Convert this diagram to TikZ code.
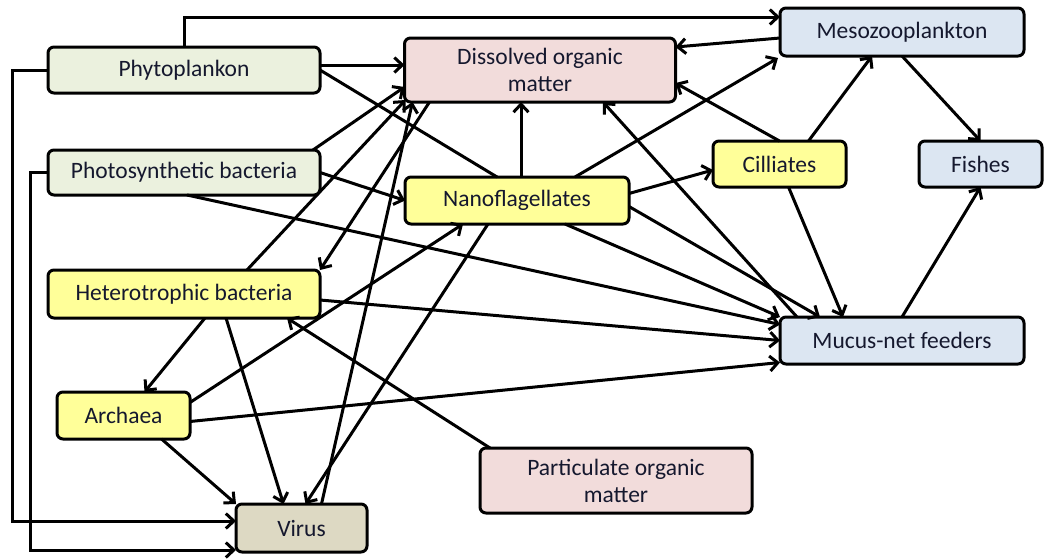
\documentclass[tikz,border=0pt]{standalone}
\usepackage{fontspec}
\setmainfont{Carlito}
\usetikzlibrary{arrows.meta}
\definecolor{plantfill}{HTML}{EBF1DE}
\definecolor{orgfill}{HTML}{F2DCDB}
\definecolor{zoofill}{HTML}{DCE6F2}
\definecolor{microfill}{HTML}{FFFF99}
\definecolor{virfill}{HTML}{DDD9C3}
\definecolor{labeltext}{HTML}{15182E}
\tikzset{
  box/.style={
    draw,
    rounded corners=6pt,
    inner sep=0pt,
    outer sep=0pt,
    align=center,
    text=labeltext,
    font=\fontsize{23.5}{27}\selectfont
  },
  flow/.style={-{Straight Barb[length=8pt,width=15pt]}}
}

\begin{document}
\begin{tikzpicture}[x=1pt,y=-1pt,line width=3pt]
    \useasboundingbox (0,0) rectangle (1045,560);
    \node[box,fill=plantfill,minimum width=272pt,minimum height=46pt] (phyto) at (184,70) {Phytoplankon};
    \node[box,fill=plantfill,minimum width=272pt,minimum height=45pt] (photo) at (184,172.5) {Photosynthetic bacteria};
    \node[box,fill=microfill,minimum width=272pt,minimum height=48pt] (hetero) at (184,294) {Heterotrophic bacteria};
    \node[box,fill=microfill,minimum width=133pt,minimum height=47pt] (arch) at (123.5,415.5) {Archaea};
    \node[box,fill=virfill,minimum width=131pt,minimum height=48pt] (virus) at (301.5,528) {Virus};
    \node[box,fill=orgfill,minimum width=271pt,minimum height=64pt] (dom) at (540,70) {Dissolved organic\\matter};
    \node[box,fill=orgfill,minimum width=272pt,minimum height=65pt] (pom) at (616,480.5) {Particulate organic\\matter};
    \node[box,fill=microfill,minimum width=224pt,minimum height=47pt] (nano) at (517,200.5) {Nanoflagellates};
    \node[box,fill=microfill,minimum width=133pt,minimum height=46pt] (cil) at (779.5,164) {Cilliates};
    \node[box,fill=zoofill,minimum width=244pt,minimum height=48pt] (meso) at (902,32) {Mesozooplankton};
    \node[box,fill=zoofill,minimum width=123pt,minimum height=46pt] (fish) at (980.5,164) {Fishes};
    \node[box,fill=zoofill,minimum width=244pt,minimum height=47pt] (mucus) at (902,340.5) {Mucus-net feeders};

    \draw[flow] (phyto.north) |- ([yshift=15pt]meso.west);
    \draw[flow] (phyto.west) -- ++(-36,0) |- ([yshift=7pt]virus.west);
    \draw[flow] (photo.west) -- ++(-18,0) |- ([yshift=-22pt]virus.west);
    \draw[flow] ([yshift=5pt]phyto.east) -- ([yshift=5pt]dom.west);
    \draw (phyto.east) -- ([xshift=-20pt]nano.north);
    \draw[flow] ([xshift=129pt]photo.north) -- ([yshift=-17pt]dom.west);
    \draw[flow] (photo.east) -- (nano.west);
    \draw[flow] ([xshift=3pt]photo.south) -- ([yshift=16pt]mucus.west);
    \draw[flow] ([xshift=63pt]hetero.north) -- ([xshift=1pt,yshift=2pt]dom.south west);
    \draw[flow] ([xshift=25pt]dom.south west) -- (hetero.north east);
    \draw[flow] ([xshift=20pt]virus.north) -- ([xshift=8pt]dom.south west);
    \draw[flow] ([yshift=-6pt]hetero.east) -- (mucus.west);
    \draw[flow] ([xshift=21pt]hetero.south) -- ([xshift=21pt]arch.north);
    \draw[flow] ([xshift=42pt]hetero.south) -- ([xshift=-18pt]virus.north);
    \draw[flow] ([xshift=10pt]pom.north west) -- ([xshift=103pt]hetero.south);
    \draw[flow] ([xshift=38pt]arch.south) -- (virus.north west);
    \draw[flow] ([yshift=13pt]arch.east) -- ([xshift=-54pt]nano.south);
    \draw[flow] ([yshift=-6pt]arch.east) -- ([yshift=-22pt]mucus.west);
    \draw[flow] ([xshift=-29pt]nano.south) -- ([xshift=4pt]virus.north);
    \draw[flow] ([xshift=4pt]nano.north) -- ([xshift=-19pt]dom.south);
    \draw[flow] ([xshift=58pt]nano.north) -- ([xshift=-2pt,yshift=-2pt]meso.south west);
    \draw[flow] ([yshift=7pt]nano.east) -- ([yshift=-6pt]cil.west);
    \draw[flow] ([yshift=-6pt]nano.east) -- ([xshift=-82pt]mucus.north);
    \draw[flow] ([xshift=48pt]nano.south) -- (mucus.north west);
    \draw[flow] ([yshift=-6pt]meso.west) -- ([yshift=23pt]dom.east);
    \draw[flow] (cil.north) -- ([yshift=-13pt]dom.east);
    \draw[flow] ([xshift=29pt]cil.north) -- ([xshift=-30pt]meso.south);
    \draw[flow] (meso.south) -- (fish.north);
    \draw[flow] ([xshift=9pt]cil.south) -- ([xshift=-59pt]mucus.north);
    \draw[flow] (mucus.north) -- (fish.south);
    \draw[flow] ([xshift=17pt]mucus.north west) -- ([xshift=63pt]dom.south);
\end{tikzpicture}
\end{document}
